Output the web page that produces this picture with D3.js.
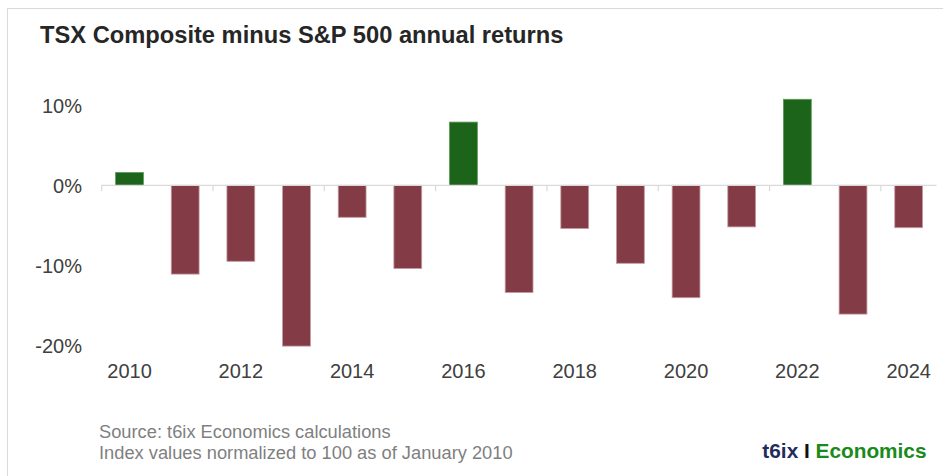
<!DOCTYPE html>
<html>
<head>
<meta charset="utf-8">
<script src="https://cdn.jsdelivr.net/npm/d3@7"></script>
<style>
  body { margin: 0; background: #fff; }
  text { font-family: "Liberation Sans", Arial, sans-serif; }
</style>
</head>
<body>
<div id="chartDiv"></div>
<script>
// data
const years = ['2010','2011','2012','2013','2014','2015','2016','2017','2018','2019','2020','2021','2022','2023','2024'];
const diffs = [1.6, -11.1, -9.5, -20.1, -4.0, -10.4, 7.9, -13.4, -5.4, -9.75, -14.05, -5.2, 10.75, -16.1, -5.3];
const yTicks = [10, 0, -10, -20];
const labelYears = ['2010','2012','2014','2016','2018','2020','2022','2024'];

const W = 943, H = 476;
const svg = d3.select('#chartDiv').append('svg')
  .attr('width', W).attr('height', H);

// frame
svg.append('rect')
  .attr('x', 7.5).attr('y', 8.5)
  .attr('width', W + 20).attr('height', H + 20)
  .attr('fill', 'none').attr('stroke', '#d9d9d9');

// title
svg.append('text')
  .attr('x', 40).attr('y', 43)
  .attr('font-size', 23.7).attr('font-weight', 'bold')
  .attr('fill', '#262626')
  .text('TSX Composite minus S&P 500 annual returns');

const x = d3.scaleBand().domain(years)
  .range([101.7, 936.5])
  .paddingInner(0.5).paddingOuter(0.25);
const y = d3.scaleLinear().domain([-20, 10]).range([345.3, 105.3]);

// y labels
svg.append('g').selectAll('text')
  .data(yTicks).join('text')
  .attr('x', 82).attr('y', d => y(d))
  .attr('dy', '0.36em')
  .attr('text-anchor', 'end')
  .attr('font-size', 20).attr('fill', '#404040')
  .text(d => d + '%');

// bars
svg.append('g').selectAll('rect')
  .data(years).join('rect')
  .attr('x', d => x(d))
  .attr('width', x.bandwidth())
  .attr('y', (d, i) => y(Math.max(0, diffs[i])))
  .attr('height', (d, i) => Math.abs(y(diffs[i]) - y(0)))
  .attr('fill', (d, i) => diffs[i] >= 0 ? '#1b6419' : '#833c46')
  .attr('stroke', (d, i) => diffs[i] >= 0 ? '#5a9a57' : '#c49aa0')
  .attr('stroke-width', 0.8);

// zero line and ticks
const y0 = y(0);
svg.append('line')
  .attr('x1', x.range()[0]).attr('x2', x.range()[1])
  .attr('y1', y0).attr('y2', y0)
  .attr('stroke', '#d9d9d9').attr('stroke-width', 1.2);

const tickPos = d3.range(0, years.length + 1, 2).map(i => x.range()[0] + i * x.step());
svg.append('g').selectAll('line')
  .data(tickPos).join('line')
  .attr('x1', d => d).attr('x2', d => d)
  .attr('y1', y0).attr('y2', y0 + 6)
  .attr('stroke', '#d9d9d9').attr('stroke-width', 1.2);

// x labels
svg.append('g').selectAll('text')
  .data(labelYears).join('text')
  .attr('x', d => x(d) + x.bandwidth() / 2)
  .attr('y', 377.5)
  .attr('text-anchor', 'middle')
  .attr('font-size', 20).attr('fill', '#404040')
  .text(d => d);

// footnotes
const notes = ['Source: t6ix Economics calculations', 'Index values normalized to 100 as of January 2010'];
svg.append('g').selectAll('text')
  .data(notes).join('text')
  .attr('x', 99).attr('y', (d, i) => 438 + i * 21)
  .attr('font-size', 18.3).attr('fill', '#7f7f7f')
  .text(d => d);

// logo
const logo = svg.append('text')
  .attr('x', 926.5).attr('y', 457.5)
  .attr('text-anchor', 'end')
  .attr('font-size', 20.8).attr('font-weight', 'bold');
logo.append('tspan').attr('fill', '#1f2d5c').text('t6ix ');
logo.append('tspan').attr('fill', '#111').text('I ');
logo.append('tspan').attr('fill', '#1a8a1a').text('Economics');
</script>
</body>
</html>
